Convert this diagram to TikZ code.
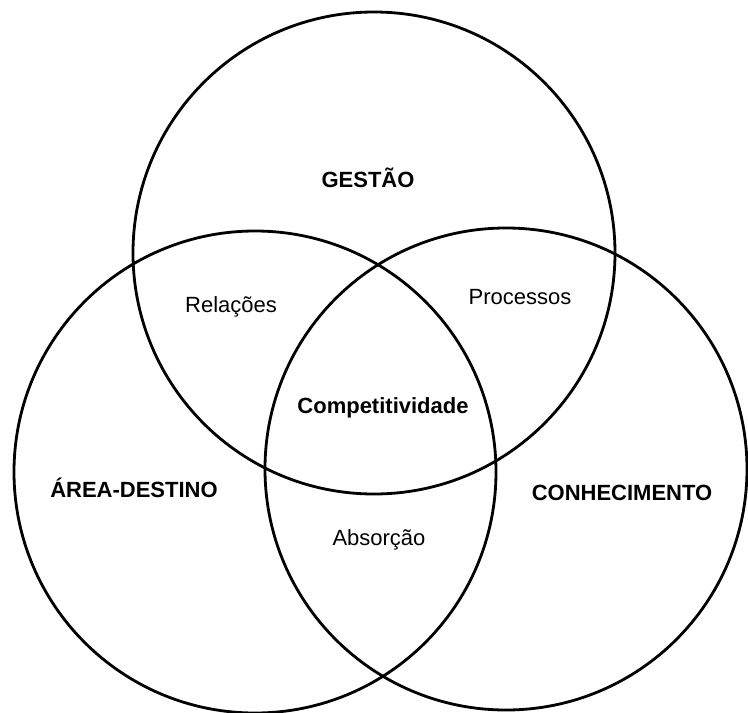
\documentclass[tikz,border=0pt]{standalone}
\usepackage{fontspec}
\setmainfont{Liberation Sans}
\begin{document}
\begin{tikzpicture}[x=1pt,y=-1pt,
  ring/.style={draw=black,line width=2.8pt},
  lbl/.style={anchor=base,inner sep=0pt,font=\fontsize{22}{26}\selectfont},
  blbl/.style={lbl,font=\fontsize{22}{26}\selectfont\bfseries}]
\useasboundingbox (0,0) rectangle (748,713);
\coordinate (cg) at (374,253);
\coordinate (ca) at (255,472);
\coordinate (ck) at (506,469);
\draw[ring] (cg) circle[radius=241];
\draw[ring] (ca) circle[radius=241];
\draw[ring] (ck) circle[radius=241];
\node[blbl] (gestao) at (368,187) {GESTÃO};
\node[lbl] (relacoes) at (231,312) {Relações};
\node[lbl] (processos) at (520,304) {Processos};
\node[blbl] (comp) at (383,413) {Competitividade};
\node[blbl] (area) at (134,497) {ÁREA-DESTINO};
\node[blbl] (conh) at (622,500) {CONHECIMENTO};
\node[lbl] (absorcao) at (379,545) {Absorção};
\end{tikzpicture}
\end{document}
